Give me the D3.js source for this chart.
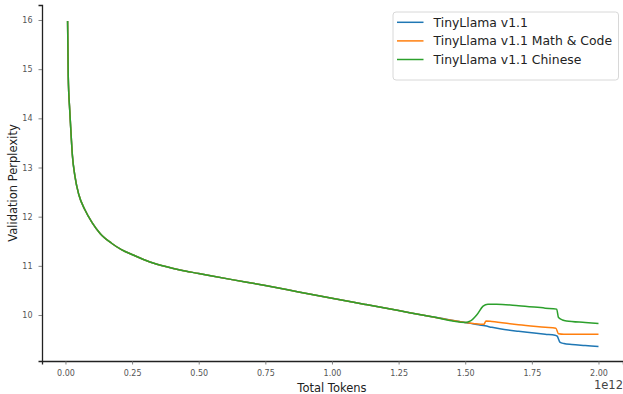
<!DOCTYPE html>
<html>
<head>
<meta charset="utf-8">
<script src="https://cdn.jsdelivr.net/npm/d3@7"></script>
<style>
  html, body { margin: 0; padding: 0; background: #fff; }
  svg { display: block; font-family: "DejaVu Sans", sans-serif; }
</style>
</head>
<body>
<svg id="chart" width="623" height="394"></svg>
<script>
// ---- Data (tokens in units of 1e12) ----
const seriesNames = ["TinyLlama v1.1", "TinyLlama v1.1 Math & Code", "TinyLlama v1.1 Chinese"];
const seriesColors = ["#1f77b4", "#ff7f0e", "#2ca02c"];

const sharedTokens = [0.008, 0.0105, 0.016, 0.0195, 0.026, 0.036, 0.05, 0.073, 0.1, 0.13, 0.173, 0.21, 0.254, 0.317, 0.38, 0.43, 0.5, 0.625, 0.75, 0.875, 1.0, 1.125, 1.25, 1.375, 1.5];
const sharedPpl    = [15.98, 14.85, 14.17, 13.83, 13.25, 12.81, 12.45, 12.14, 11.88, 11.66, 11.46, 11.33, 11.22, 11.08, 10.98, 10.915, 10.845, 10.72, 10.6, 10.47, 10.34, 10.215, 10.09, 9.965, 9.85];

const baseTailTokens = [1.55, 1.574, 1.6, 1.63, 1.7, 1.75, 1.8, 1.837, 1.845, 1.855, 1.87, 1.9, 1.95, 2.0];
const baseTailPpl    = [9.80, 9.78, 9.75, 9.72, 9.67, 9.64, 9.61, 9.59, 9.57, 9.45, 9.42, 9.40, 9.38, 9.36];

const mathTailTokens = [1.53, 1.57, 1.578, 1.6, 1.7, 1.8, 1.84, 1.85, 1.87, 1.95, 2.0];
const mathTailPpl    = [9.83, 9.81, 9.88, 9.87, 9.80, 9.75, 9.73, 9.62, 9.61, 9.61, 9.61];

const zhTailTokens = [1.52, 1.543, 1.567, 1.585, 1.618, 1.7, 1.8, 1.843, 1.85, 1.865, 1.88, 1.95, 2.0];
const zhTailPpl    = [9.88, 10.0, 10.18, 10.22, 10.22, 10.19, 10.14, 10.12, 9.95, 9.90, 9.88, 9.85, 9.83];

const xTicks = [0, 0.25, 0.5, 0.75, 1.0, 1.25, 1.5, 1.75, 2.0];
const yTicks = [10, 11, 12, 13, 14, 15, 16];

function buildSeries(tailT, tailP) {
  const t = sharedTokens.concat(tailT);
  const p = sharedPpl.concat(tailP);
  return t.map((v, i) => ({ x: v, y: p[i] }));
}
const series = [
  buildSeries(baseTailTokens, baseTailPpl),
  buildSeries(mathTailTokens, mathTailPpl),
  buildSeries(zhTailTokens, zhTailPpl)
];

// ---- Layout ----
const svg = d3.select("#chart");
const plotLeft = 42, plotRight = 623, plotTop = 5, plotBottom = 361;

const x = d3.scaleLinear().domain([-0.088, 2.092]).range([plotLeft, plotRight]);
const y = d3.scaleLinear().domain([9.065, 16.305]).range([plotBottom, plotTop]);

// X axis
const xAxis = svg.append("g")
  .attr("transform", `translate(0,${plotBottom})`)
  .call(d3.axisBottom(x).tickValues(xTicks).tickFormat(d3.format(".2f")).tickSize(3.5).tickPadding(6));
// Y axis
const yAxis = svg.append("g")
  .attr("transform", `translate(${plotLeft},0)`)
  .call(d3.axisLeft(y).tickValues(yTicks).tickFormat(d3.format("d")).tickSize(3.5).tickPadding(6));

[xAxis, yAxis].forEach(g => {
  g.select(".domain").attr("stroke", "#222").attr("stroke-width", 1.3);
  g.selectAll(".tick line").attr("stroke", "#666").attr("stroke-width", 0.8);
  g.selectAll(".tick text").attr("fill", "#555").style("font-size", "8px").style("font-family", "DejaVu Sans");
});

// Lines
const line = d3.line().x(d => x(d.x)).y(d => y(d.y)).curve(d3.curveMonotoneX);
series.forEach((s, i) => {
  svg.append("path")
    .datum(s)
    .attr("fill", "none")
    .attr("stroke", seriesColors[i])
    .attr("stroke-width", 1.5)
    .attr("stroke-linejoin", "round")
    .attr("d", line);
});

// Axis labels
svg.append("text")
  .attr("x", (x(0) + x(2)) / 2).attr("y", 392)
  .attr("text-anchor", "middle")
  .style("font-size", "11.5px").attr("fill", "#222")
  .text("Total Tokens");

svg.append("text")
  .attr("transform", `translate(17,${(plotTop + plotBottom) / 2}) rotate(-90)`)
  .attr("text-anchor", "middle")
  .style("font-size", "11.5px").attr("fill", "#222")
  .text("Validation Perplexity");

svg.append("text")
  .attr("x", 623).attr("y", 389)
  .attr("text-anchor", "end")
  .style("font-size", "11.5px").attr("fill", "#444")
  .text("1e12");

// Legend
const lg = svg.append("g");
lg.append("rect")
  .attr("x", 393).attr("y", 12).attr("width", 225.5).attr("height", 68)
  .attr("rx", 3).attr("fill", "#fff").attr("fill-opacity", 0.8)
  .attr("stroke", "#d8d8d8").attr("stroke-width", 1);
seriesNames.forEach((name, i) => {
  const cy = 22.3 + i * 18.6;
  lg.append("line")
    .attr("x1", 397).attr("x2", 423.5).attr("y1", cy).attr("y2", cy)
    .attr("stroke", seriesColors[i]).attr("stroke-width", 1.5);
  lg.append("text")
    .attr("x", 433.5).attr("y", cy + 4.4)
    .style("font-size", "12.4px").attr("fill", "#222")
    .text(name);
});
</script>
</body>
</html>
